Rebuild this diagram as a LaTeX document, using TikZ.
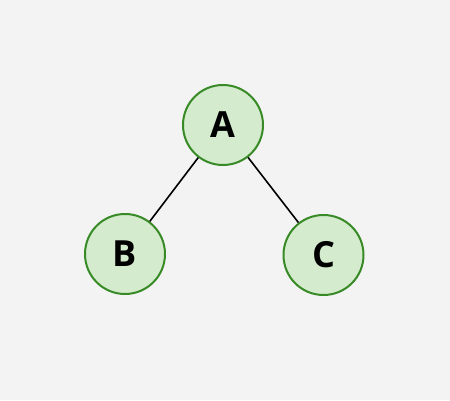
\documentclass[tikz,border=0pt]{standalone}
\usepackage{fontspec}
\setmainfont{Open Sans}
\usetikzlibrary{positioning}
\definecolor{vfill}{HTML}{D4EBCD}
\definecolor{vdraw}{HTML}{378A25}
\definecolor{bgcol}{HTML}{F3F3F3}
\begin{document}
\begin{tikzpicture}[>=latex]
    \tikzset{vertex/.style= {draw=vdraw, fill=vfill, circle, line width=2pt, minimum size=80pt, inner sep=0pt, font={\fontsize{36}{40}\selectfont\bfseries}} }
    \tikzset{edge/.style= {draw, black, line width=1.6pt} }

    \fill[bgcol] (0,0) rectangle (450pt,400pt);
    \useasboundingbox (0,0) rectangle (450pt,400pt);

    \node[vertex] (a) at (223pt,275pt) {A};
    \node[vertex] (b) at (125pt,146pt) {B};
    \node[vertex] (c) at (323.5pt,145pt) {C};

    \path[edge] (a) -- (b);
    \path[edge] (a) -- (c);
\end{tikzpicture}
\end{document}
